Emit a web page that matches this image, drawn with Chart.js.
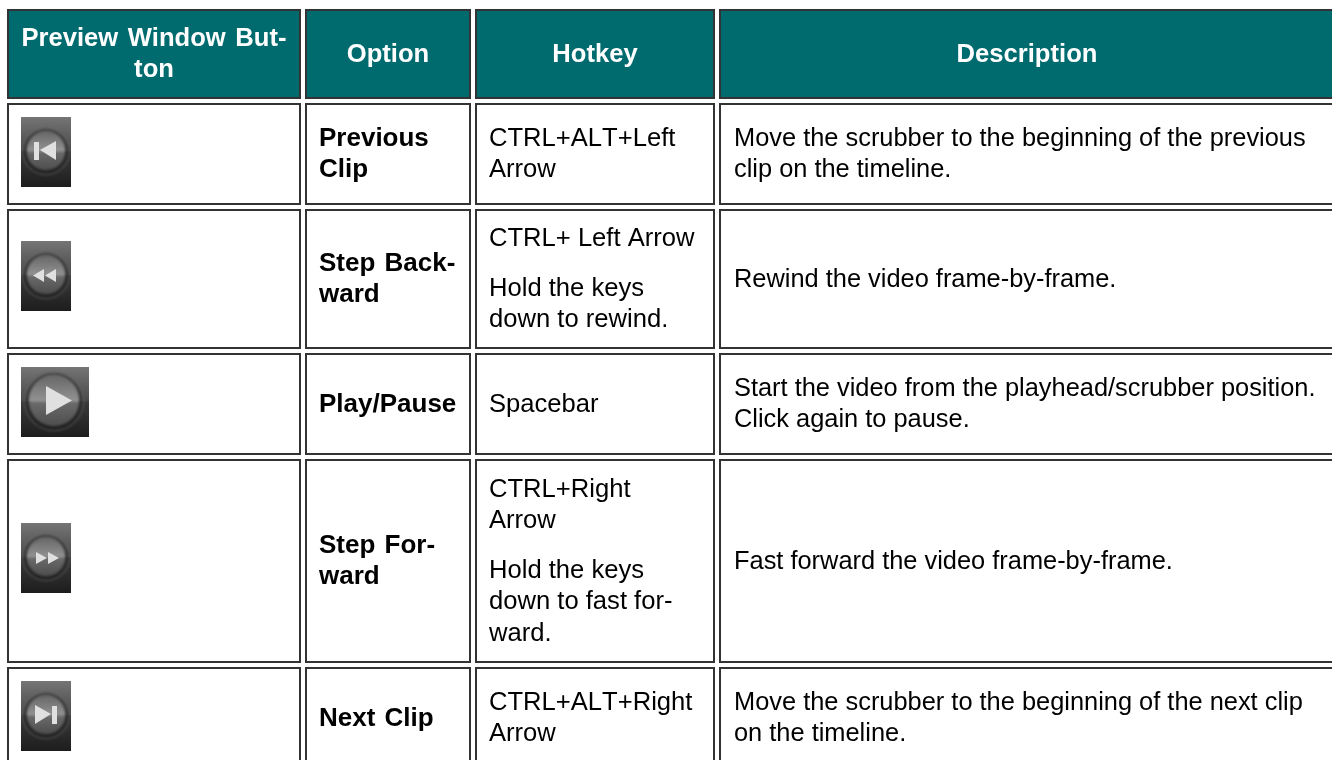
<!DOCTYPE html>
<html>
<head>
<meta charset="utf-8">
<title>Preview Window Buttons</title>
<script src="https://cdn.jsdelivr.net/npm/chart.js@4"></script>
<style>
  html, body { margin: 0; padding: 0; background: #fff; overflow: hidden; }
  canvas { display: block; }
</style>
</head>
<body>
<canvas id="table" width="1332" height="760"></canvas>
<script>
// table content
const headerLines = [['Preview Window But-', 'ton'], ['Option'], ['Hotkey'], ['Description']];
const buttonIcons = ['previous', 'rewind', 'play', 'forward', 'next'];
const optionLines = [['Previous', 'Clip'], ['Step Back-', 'ward'], ['Play/Pause'], ['Step For-', 'ward'], ['Next Clip']];
const hotkeyLines = [
  [['CTRL+ALT+Left', 'Arrow']],
  [['CTRL+ Left Arrow'], ['Hold the keys', 'down to rewind.']],
  [['Spacebar']],
  [['CTRL+Right', 'Arrow'], ['Hold the keys', 'down to fast for-', 'ward.']],
  [['CTRL+ALT+Right', 'Arrow']]
];
const descriptionLines = [
  ['Move the scrubber to the beginning of the previous', 'clip on the timeline.'],
  ['Rewind the video frame-by-frame.'],
  ['Start the video from the playhead/scrubber position.', 'Click again to pause.'],
  ['Fast forward the video frame-by-frame.'],
  ['Move the scrubber to the beginning of the next clip', 'on the timeline.']
];

// grid lines, in page pixels (the axes run 0-1332 and 0-760)
const columnEdges = [[8, 300], [306, 470], [476, 714], [720, 1334]];
const rowEdges = [[10, 98], [104, 204], [210, 348], [354, 454], [460, 662], [668, 768]];
const iconCenters = [[46, 152], [46, 276], [55, 402], [46, 558], [46, 716]];
const textLeft = [null, 319, 489, 734];

const LINE_HEIGHT = 31.5;
const PARA_GAP = 18;
const BORDER = '#333333';
const TEAL = '#006b6e';

// text styles per column kind
const headerStyle = { weight: 'bold', size: 25.6, color: '#fff', align: 'center', wordSpacing: '2.5px', kerning: 'auto' };
const optionStyle = { weight: 'bold', size: 26, color: '#000', align: 'left', wordSpacing: '2px', kerning: 'auto' };
const hotkeyStyle = { weight: 'normal', size: 25.6, color: '#000', align: 'left', wordSpacing: '0px', kerning: 'none' };
const bodyStyle = { weight: 'normal', size: 25.4, color: '#000', align: 'left', wordSpacing: '0px', kerning: 'auto' };

// glyph shapes for the button icons, relative to the icon's top left corner
const glyphs = {
  previous: { size: [50, 70], disc: [25, 34, 19], bars: [[13, 25, 5, 18]], tris: [[35, 24, 19, 33, 35, 43]] },
  rewind: { size: [50, 70], disc: [25, 34, 19], bars: [], tris: [[23, 28, 12, 34.5, 23, 41], [35, 28, 24, 34.5, 35, 41]] },
  play: { size: [68, 70], disc: [33, 34, 25], bars: [], tris: [[25, 19, 51, 33.5, 25, 48]] },
  forward: { size: [50, 70], disc: [25, 34, 19], bars: [], tris: [[15, 29, 26, 35, 15, 41], [27, 29, 38, 35, 27, 41]] },
  next: { size: [50, 70], disc: [25, 34, 19], bars: [[31, 25, 5, 18]], tris: [[14, 24, 30, 33, 14, 43]] }
};

function makeIcon(name) {
  const g = glyphs[name];
  const w = g.size[0], h = g.size[1];
  const c = document.createElement('canvas');
  c.width = w; c.height = h;
  const ctx = c.getContext('2d');

  const bg = ctx.createLinearGradient(0, 0, 0, h);
  bg.addColorStop(0, '#757575');
  bg.addColorStop(0.48, '#4a4a4a');
  bg.addColorStop(0.5, '#3a3a3a');
  bg.addColorStop(1, '#1d1d1d');
  ctx.fillStyle = bg;
  ctx.fillRect(0, 0, w, h);

  ctx.filter = 'blur(1.2px)';
  const [cx, cy, r] = g.disc;

  // soft ring around the disc
  ctx.beginPath();
  ctx.arc(cx, cy, r + 4.5, 0, Math.PI * 2);
  ctx.strokeStyle = 'rgba(105,105,105,0.4)';
  ctx.lineWidth = 2;
  ctx.stroke();
  ctx.beginPath();
  ctx.arc(cx, cy, r + 2, 0, Math.PI * 2);
  ctx.strokeStyle = 'rgba(30,30,30,0.45)';
  ctx.lineWidth = 2.5;
  ctx.stroke();

  const disc = ctx.createLinearGradient(0, cy - r, 0, cy + r);
  disc.addColorStop(0, '#686868');
  disc.addColorStop(0.5, '#939393');
  disc.addColorStop(0.53, '#6a6a6a');
  disc.addColorStop(1, '#4e4e4e');
  ctx.beginPath();
  ctx.arc(cx, cy, r, 0, Math.PI * 2);
  ctx.fillStyle = disc;
  ctx.fill();

  ctx.filter = 'blur(0.6px)';
  ctx.fillStyle = '#e0e0e0';
  g.bars.forEach(b => ctx.fillRect(b[0], b[1], b[2], b[3]));
  g.tris.forEach(t => {
    ctx.beginPath();
    ctx.moveTo(t[0], t[1]);
    ctx.lineTo(t[2], t[3]);
    ctx.lineTo(t[4], t[5]);
    ctx.closePath();
    ctx.fill();
  });
  return c;
}

// one closed line per cell, the header row filled
const cellDatasets = [];
rowEdges.forEach((row, r) => {
  columnEdges.forEach(col => {
    cellDatasets.push({
      type: 'scatter',
      showLine: true,
      data: [
        { x: col[0], y: row[0] },
        { x: col[1], y: row[0] },
        { x: col[1], y: row[1] },
        { x: col[0], y: row[1] },
        { x: col[0], y: row[0] }
      ],
      borderColor: BORDER,
      borderWidth: 2,
      borderCapStyle: 'square',
      borderJoinStyle: 'miter',
      backgroundColor: TEAL,
      fill: r === 0 ? 'shape' : false,
      pointRadius: 0,
      tension: 0
    });
  });
});

const iconDataset = {
  type: 'scatter',
  data: iconCenters.map(p => ({ x: p[0], y: p[1] })),
  pointStyle: buttonIcons.map(makeIcon),
  pointRadius: 1,
  pointHoverRadius: 1
};

function drawBlock(ctx, paragraphs, x, top, bottom, style) {
  const count = paragraphs.reduce((n, p) => n + p.length, 0);
  const blockHeight = count * LINE_HEIGHT + (paragraphs.length - 1) * PARA_GAP;
  let y = (top + bottom) / 2 - blockHeight / 2 + LINE_HEIGHT * 0.74;
  ctx.font = style.weight + ' ' + style.size + 'px "Liberation Sans", Arial, sans-serif';
  ctx.fontKerning = style.kerning;
  ctx.wordSpacing = style.wordSpacing;
  ctx.fillStyle = style.color;
  ctx.textAlign = style.align;
  ctx.textBaseline = 'alphabetic';
  paragraphs.forEach(p => {
    p.forEach(line => {
      ctx.fillText(line, x, Math.round(y));
      y += LINE_HEIGHT;
    });
    y += PARA_GAP;
  });
}

const tableText = {
  id: 'tableText',
  afterDatasetsDraw(chart) {
    const { ctx, scales: { x, y } } = chart;
    ctx.save();
    headerLines.forEach((lines, c) => {
      const cx = x.getPixelForValue((columnEdges[c][0] + columnEdges[c][1]) / 2);
      drawBlock(ctx, [lines], cx, y.getPixelForValue(rowEdges[0][0]), y.getPixelForValue(rowEdges[0][1]), headerStyle);
    });
    optionLines.forEach((lines, r) => {
      const row = rowEdges[r + 1];
      drawBlock(ctx, [lines], x.getPixelForValue(textLeft[1]), y.getPixelForValue(row[0]), y.getPixelForValue(row[1]), optionStyle);
    });
    hotkeyLines.forEach((paras, r) => {
      const row = rowEdges[r + 1];
      drawBlock(ctx, paras, x.getPixelForValue(textLeft[2]), y.getPixelForValue(row[0]), y.getPixelForValue(row[1]), hotkeyStyle);
    });
    descriptionLines.forEach((lines, r) => {
      const row = rowEdges[r + 1];
      drawBlock(ctx, [lines], x.getPixelForValue(textLeft[3]), y.getPixelForValue(row[0]), y.getPixelForValue(row[1]), bodyStyle);
    });
    ctx.restore();
  }
};

new Chart(document.getElementById('table'), {
  type: 'scatter',
  data: { datasets: [iconDataset].concat(cellDatasets) },
  options: {
    responsive: false,
    animation: false,
    events: [],
    layout: { padding: 0, autoPadding: false },
    plugins: { legend: { display: false }, tooltip: { enabled: false } },
    scales: {
      x: { type: 'linear', display: false, min: 0, max: 1332 },
      y: { type: 'linear', display: false, min: 0, max: 760, reverse: true }
    }
  },
  plugins: [tableText]
});
</script>
</body>
</html>
